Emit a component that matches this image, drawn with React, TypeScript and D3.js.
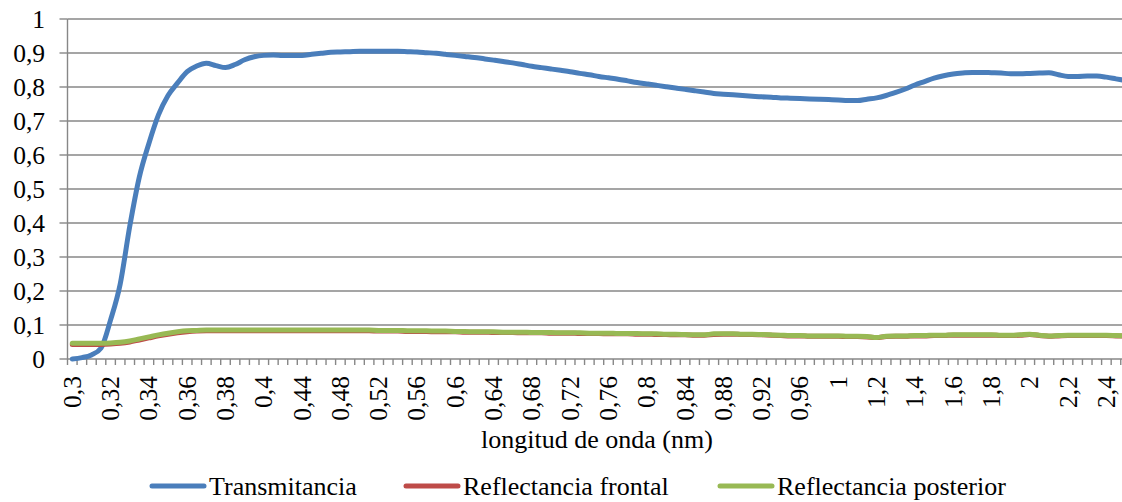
import React from "react";
import * as d3 from "d3";

// wavelength categories (nm axis labels as in the source)
const wavelengths: number[] = [
  0.3, 0.305, 0.31, 0.315, 0.32, 0.325, 0.33, 0.335, 0.34, 0.345, 0.35, 0.355, 0.36, 0.365, 0.37, 0.375, 0.38, 0.385, 0.39, 0.395, 0.4,
  0.41, 0.42, 0.43, 0.44, 0.45, 0.46, 0.47, 0.48, 0.49, 0.5, 0.51, 0.52, 0.53, 0.54, 0.55, 0.56, 0.57, 0.58, 0.59, 0.6,
  0.61, 0.62, 0.63, 0.64, 0.65, 0.66, 0.67, 0.68, 0.69, 0.7, 0.71, 0.72, 0.73, 0.74, 0.75, 0.76, 0.77, 0.78, 0.79, 0.8,
  0.81, 0.82, 0.83, 0.84, 0.85, 0.86, 0.87, 0.88, 0.89, 0.9, 0.91, 0.92, 0.93, 0.94, 0.95, 0.96, 0.97, 0.98, 0.99, 1,
  1.05, 1.1, 1.15, 1.2, 1.25, 1.3, 1.35, 1.4, 1.45, 1.5, 1.55, 1.6, 1.65, 1.7, 1.75, 1.8, 1.85, 1.9, 1.95, 2,
  2.05, 2.1, 2.15, 2.2, 2.25, 2.3, 2.35, 2.4, 2.45, 2.5,
];

const transmitancia: number[] = [
  0.0, 0.004, 0.012, 0.032, 0.115, 0.22, 0.39, 0.535, 0.634, 0.718, 0.775, 0.812, 0.845, 0.862, 0.87, 0.863, 0.857, 0.866, 0.88, 0.889, 0.893,
  0.894, 0.893, 0.893, 0.893, 0.896, 0.899, 0.902, 0.903, 0.904, 0.905, 0.905, 0.905, 0.905, 0.905, 0.904, 0.903, 0.901, 0.899, 0.896, 0.893,
  0.89, 0.887, 0.883, 0.879, 0.875, 0.871, 0.866, 0.861, 0.857, 0.853, 0.849, 0.845, 0.84, 0.836, 0.831, 0.827, 0.823, 0.818, 0.813, 0.809,
  0.805, 0.801, 0.797, 0.793, 0.789, 0.785, 0.781, 0.779, 0.777, 0.775, 0.773, 0.771, 0.77, 0.768, 0.767, 0.766, 0.765, 0.764, 0.763, 0.762,
  0.76, 0.76, 0.764, 0.768, 0.775, 0.784, 0.794, 0.806, 0.816, 0.826, 0.833, 0.838, 0.841, 0.843, 0.843, 0.842, 0.841, 0.839, 0.839, 0.84,
  0.841, 0.842, 0.836, 0.831, 0.831, 0.832, 0.832, 0.829, 0.824, 0.819,
];

const reflectanciaFrontal: number[] = [
  0.043, 0.043, 0.043, 0.043, 0.044, 0.046, 0.05, 0.056, 0.062, 0.068, 0.073, 0.077, 0.08, 0.082, 0.083, 0.083, 0.083, 0.083, 0.083, 0.083, 0.083,
  0.083, 0.083, 0.083, 0.083, 0.083, 0.083, 0.083, 0.083, 0.083, 0.083, 0.083, 0.082, 0.082, 0.082, 0.081, 0.081, 0.081, 0.08, 0.08, 0.08,
  0.079, 0.079, 0.079, 0.078, 0.078, 0.078, 0.077, 0.077, 0.077, 0.076, 0.076, 0.076, 0.075, 0.075, 0.075, 0.074, 0.074, 0.074, 0.073, 0.073,
  0.072, 0.072, 0.071, 0.071, 0.07, 0.07, 0.072, 0.073, 0.073, 0.072, 0.072, 0.071, 0.07, 0.069, 0.068, 0.068, 0.067, 0.067, 0.067, 0.067,
  0.066, 0.066, 0.065, 0.063, 0.066, 0.067, 0.067, 0.068, 0.068, 0.069, 0.069, 0.07, 0.07, 0.07, 0.07, 0.07, 0.069, 0.069, 0.07, 0.072,
  0.069, 0.067, 0.068, 0.069, 0.069, 0.069, 0.069, 0.069, 0.068, 0.067,
];

const reflectanciaPosterior: number[] = [
  0.046, 0.046, 0.046, 0.046, 0.047, 0.049, 0.053, 0.059, 0.065, 0.071, 0.076, 0.08, 0.083, 0.084, 0.085, 0.085, 0.085, 0.085, 0.085, 0.085, 0.085,
  0.085, 0.085, 0.085, 0.085, 0.085, 0.085, 0.085, 0.085, 0.085, 0.085, 0.085, 0.084, 0.084, 0.084, 0.083, 0.083, 0.083, 0.082, 0.082, 0.081,
  0.081, 0.08, 0.08, 0.08, 0.079, 0.079, 0.079, 0.078, 0.078, 0.078, 0.077, 0.077, 0.077, 0.076, 0.076, 0.076, 0.075, 0.075, 0.075, 0.074,
  0.074, 0.073, 0.073, 0.072, 0.071, 0.071, 0.074, 0.074, 0.074, 0.073, 0.073, 0.072, 0.071, 0.07, 0.069, 0.069, 0.068, 0.068, 0.068, 0.068,
  0.067, 0.067, 0.066, 0.063, 0.067, 0.068, 0.068, 0.069, 0.069, 0.07, 0.07, 0.071, 0.071, 0.071, 0.071, 0.071, 0.07, 0.07, 0.071, 0.073,
  0.07, 0.068, 0.069, 0.07, 0.07, 0.07, 0.07, 0.07, 0.069, 0.068,
];

const yTicks: number[] = [0, 0.1, 0.2, 0.3, 0.4, 0.5, 0.6, 0.7, 0.8, 0.9, 1];
const labelEvery = 4;

const seriesNames = ["Transmitancia", "Reflectancia frontal", "Reflectancia posterior"];
const seriesColors = ["#4A7EBB", "#BE4B48", "#98B954"];

const FONT = "Liberation Serif";
const GRID = "#878787";

const fmt = (v: number) => String(v).replace(".", ",");

export default function App() {
  const W = 1122;
  const H = 502;
  const left = 67.5;
  const step = 9.575;
  const right = left + step * wavelengths.length;
  const top = 19;
  const bottom = 359;

  const x = d3
    .scaleBand<number>()
    .domain(wavelengths.map((_, i) => i))
    .range([left, right])
    .padding(0);
  const cx = (i: number) => (x(i) as number) + x.bandwidth() / 2;
  const y = d3.scaleLinear().domain([0, 1]).range([bottom, top]);

  const line = d3
    .line<number>()
    .x((_, i) => cx(i))
    .y((d) => y(d))
    .curve(d3.curveMonotoneX);

  const series = [transmitancia, reflectanciaFrontal, reflectanciaPosterior];

  const legendItems = [
    { lx: 152, tx: 209 },
    { lx: 406, tx: 463 },
    { lx: 720, tx: 777 },
  ];

  const textStyle = { fontFamily: FONT };

  return (
    <div style={{ position: "fixed", left: 0, top: 0, width: W, height: H, background: "#fff" }}>
      <svg width={W} height={H} style={{ display: "block", overflow: "hidden" }}>
        <rect x={0} y={0} width={W} height={H} fill="#fff" />
        {/* gridlines */}
        {yTicks.map((t) => (
          <line key={"g" + t} x1={left} x2={right} y1={y(t)} y2={y(t)} stroke={GRID} strokeWidth={1.4} />
        ))}
        {/* y axis */}
        <line x1={left} x2={left} y1={top} y2={bottom} stroke={GRID} strokeWidth={1.4} />
        {yTicks.map((t) => (
          <g key={"yt" + t}>
            <line x1={left - 8} x2={left} y1={y(t)} y2={y(t)} stroke={GRID} strokeWidth={1.4} />
            <text
              x={45}
              y={y(t)}
              textAnchor="end"
              dominantBaseline="central"
              style={textStyle}
              fontSize={25.5}
              fill="#000"
            >
              {fmt(t)}
            </text>
          </g>
        ))}
        {/* x ticks */}
        {wavelengths.map((_, i) => (
          <line
            key={"xt" + i}
            x1={x(i) as number}
            x2={x(i) as number}
            y1={bottom}
            y2={bottom + 6}
            stroke={GRID}
            strokeWidth={1.4}
          />
        ))}
        <line x1={right} x2={right} y1={bottom} y2={bottom + 6} stroke={GRID} strokeWidth={1.4} />
        {wavelengths.map((w, i) =>
          i % labelEvery === 0 ? (
            <text
              key={"xl" + i}
              transform={`translate(${cx(i)},${bottom + 17}) rotate(-90)`}
              textAnchor="end"
              dominantBaseline="central"
              style={textStyle}
              fontSize={25.5}
              fill="#000"
            >
              {fmt(w)}
            </text>
          ) : null
        )}
        {/* series */}
        {series.map((s, k) => (
          <path
            key={"s" + k}
            d={line(s) || ""}
            fill="none"
            stroke={seriesColors[k]}
            strokeWidth={5}
            strokeLinejoin="round"
            strokeLinecap="round"
          />
        ))}
        {/* x axis title */}
        <text x={597} y={448} textAnchor="middle" style={textStyle} fontSize={26} fill="#000">
          longitud de onda (nm)
        </text>
        {/* legend */}
        {legendItems.map((it, k) => (
          <g key={"lg" + k}>
            <line
              x1={it.lx}
              x2={it.lx + 52}
              y1={486}
              y2={486}
              stroke={seriesColors[k]}
              strokeWidth={5}
              strokeLinecap="round"
            />
            <text x={it.tx} y={486} dominantBaseline="central" style={textStyle} fontSize={26} fill="#000">
              {seriesNames[k]}
            </text>
          </g>
        ))}
      </svg>
    </div>
  );
}
